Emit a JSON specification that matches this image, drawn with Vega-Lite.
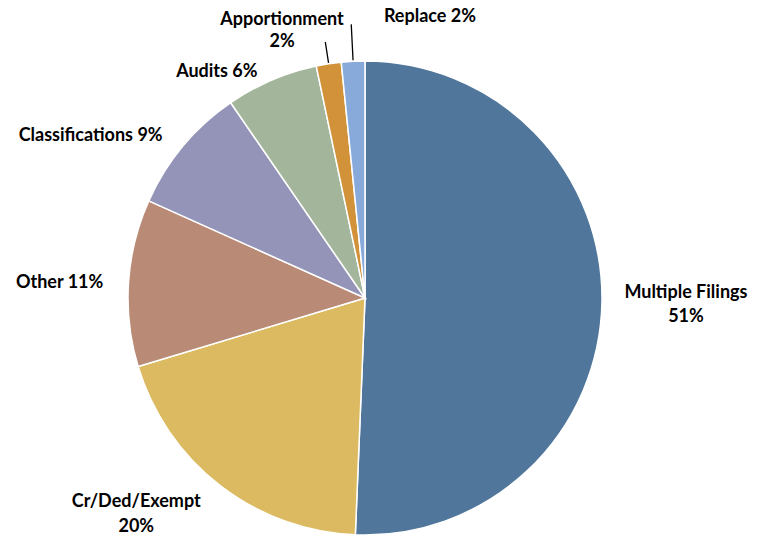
{
  "$schema": "https://vega.github.io/schema/vega-lite/v6.json",
  "width": 474,
  "height": 474,
  "autosize": {"type": "none"},
  "padding": {"left": 128, "top": 61, "right": 173, "bottom": 0},
  "background": "white",
  "view": {"stroke": null},
  "data": {
    "values": [
      {"cat": "Multiple Filings", "label": "Multiple Filings\n51%", "pct": 50.7, "idx": 1},
      {"cat": "Cr/Ded/Exempt", "label": "Cr/Ded/Exempt\n20%", "pct": 19.7, "idx": 2},
      {"cat": "Other", "label": "Other 11%", "pct": 11.4, "idx": 3},
      {"cat": "Classifications", "label": "Classifications 9%", "pct": 8.7, "idx": 4},
      {"cat": "Audits", "label": "Audits 6%", "pct": 6.3, "idx": 5},
      {"cat": "Apportionment", "label": "Apportionment\n2%", "pct": 1.7, "idx": 6},
      {"cat": "Replace", "label": "Replace 2%", "pct": 1.6, "idx": 7}
    ]
  },
  "encoding": {
    "theta": {"field": "pct", "type": "quantitative", "stack": true},
    "order": {"field": "idx", "type": "quantitative"}
  },
  "layer": [
    {
      "mark": {"type": "arc", "outerRadius": 237, "stroke": "white", "strokeWidth": 1.5},
      "encoding": {
        "color": {
          "field": "cat",
          "type": "nominal",
          "scale": {
            "domain": ["Multiple Filings", "Cr/Ded/Exempt", "Other", "Classifications", "Audits", "Apportionment", "Replace"],
            "range": ["#50769B", "#DCBA62", "#B98A75", "#9394B7", "#A3B59A", "#D29239", "#87AADB"]
          },
          "legend": null
        }
      }
    },
    {
      "mark": {"type": "arc", "padAngle": 1, "innerRadius": 238, "outerRadius": 259, "fill": "transparent", "strokeWidth": 1.3},
      "encoding": {
        "stroke": {"condition": {"test": "datum.cat === 'Apportionment'", "value": "#000000"}, "value": "transparent"}
      }
    },
    {
      "mark": {"type": "arc", "padAngle": 1, "innerRadius": 238, "outerRadius": 274, "fill": "transparent", "strokeWidth": 1.3},
      "encoding": {
        "stroke": {"condition": {"test": "datum.cat === 'Replace'", "value": "#000000"}, "value": "transparent"}
      }
    },
    {
      "mark": {"type": "text", "radius": 300, "dx": 21, "dy": -11, "font": "Lato", "fontWeight": "bold", "fontSize": 18, "lineBreak": "\n", "lineHeight": 24, "align": "center", "baseline": "middle", "color": "#000000"},
      "encoding": {"text": {"condition": {"test": "datum.cat === 'Multiple Filings'", "field": "label"}, "value": ""}}
    },
    {
      "mark": {"type": "text", "radius": 300, "dx": -45, "dy": -33, "font": "Lato", "fontWeight": "bold", "fontSize": 18, "lineBreak": "\n", "lineHeight": 25, "align": "center", "baseline": "middle", "color": "#000000"},
      "encoding": {"text": {"condition": {"test": "datum.cat === 'Cr/Ded/Exempt'", "field": "label"}, "value": ""}}
    },
    {
      "mark": {"type": "text", "radius": 300, "dx": -6, "dy": 4, "font": "Lato", "fontWeight": "bold", "fontSize": 18, "lineBreak": "\n", "lineHeight": 24, "align": "center", "baseline": "middle", "color": "#000000"},
      "encoding": {"text": {"condition": {"test": "datum.cat === 'Other'", "field": "label"}, "value": ""}}
    },
    {
      "mark": {"type": "text", "radius": 300, "dx": -44, "dy": 30, "font": "Lato", "fontWeight": "bold", "fontSize": 18, "lineBreak": "\n", "lineHeight": 24, "align": "center", "baseline": "middle", "color": "#000000"},
      "encoding": {"text": {"condition": {"test": "datum.cat === 'Classifications'", "field": "label"}, "value": ""}}
    },
    {
      "mark": {"type": "text", "radius": 300, "dx": -30, "dy": 50, "font": "Lato", "fontWeight": "bold", "fontSize": 18, "lineBreak": "\n", "lineHeight": 24, "align": "center", "baseline": "middle", "color": "#000000"},
      "encoding": {"text": {"condition": {"test": "datum.cat === 'Audits'", "field": "label"}, "value": ""}}
    },
    {
      "mark": {"type": "text", "radius": 300, "dx": -37, "dy": 18.5, "font": "Lato", "fontWeight": "bold", "fontSize": 18, "lineBreak": "\n", "lineHeight": 22, "align": "center", "baseline": "middle", "color": "#000000"},
      "encoding": {"text": {"condition": {"test": "datum.cat === 'Apportionment'", "field": "label"}, "value": ""}}
    },
    {
      "mark": {"type": "text", "radius": 300, "dx": 80, "dy": 19, "font": "Lato", "fontWeight": "bold", "fontSize": 18, "lineBreak": "\n", "lineHeight": 24, "align": "center", "baseline": "middle", "color": "#000000"},
      "encoding": {"text": {"condition": {"test": "datum.cat === 'Replace'", "field": "label"}, "value": ""}}
    }
  ]
}
